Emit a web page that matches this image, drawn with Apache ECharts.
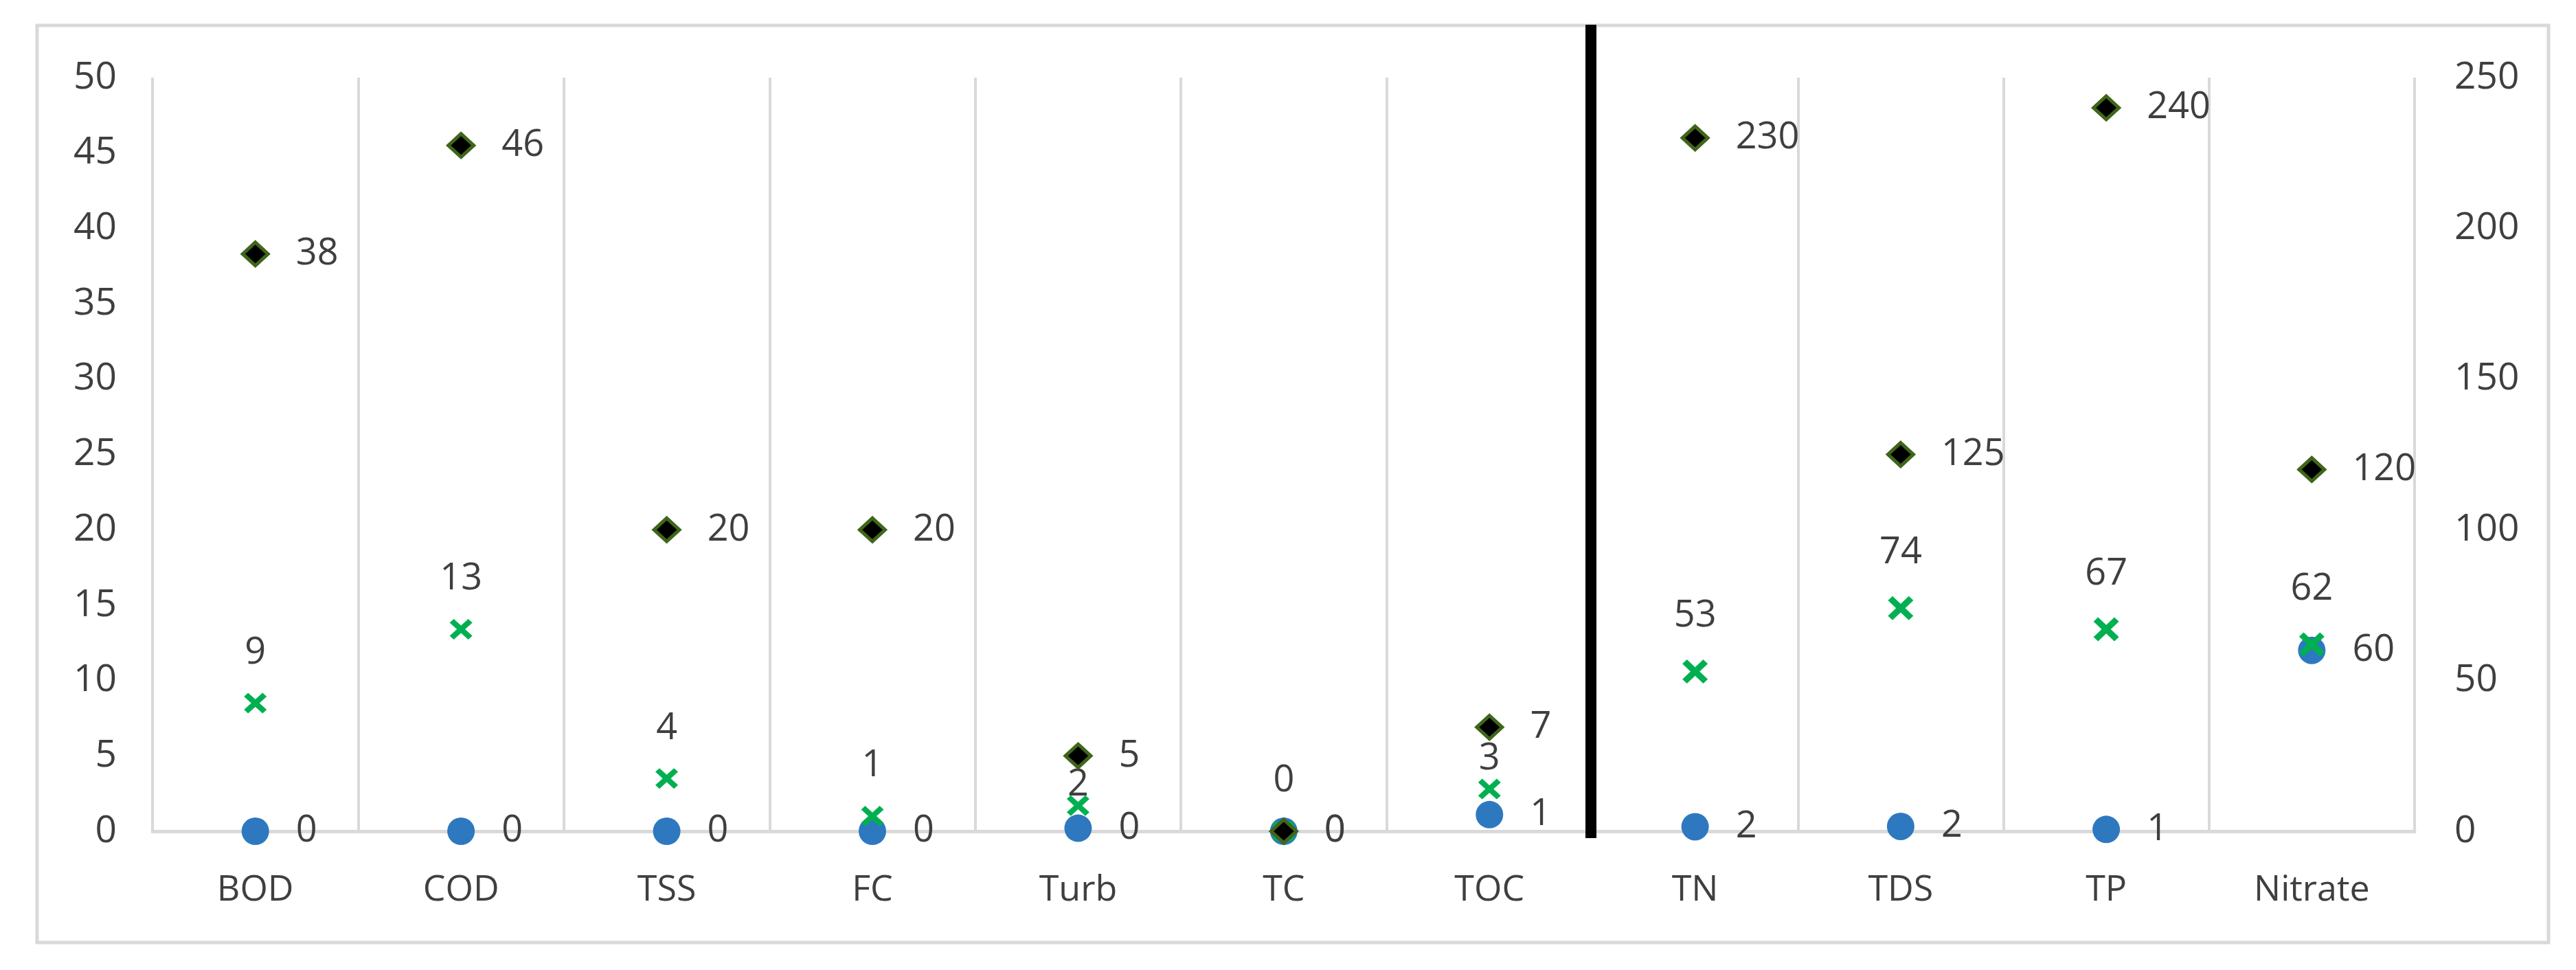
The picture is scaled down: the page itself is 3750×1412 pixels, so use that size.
<!DOCTYPE html>
<html>
<head>
<meta charset="utf-8">
<script src="https://cdn.jsdelivr.net/npm/echarts@6/dist/echarts.min.js"></script>
<style>
  html, body { margin: 0; padding: 0; background: #fff; }
  #chart { width: 3750px; height: 1412px; }
</style>
</head>
<body>
<div id="chart"></div>
<script>
// left panel (scale 0-50)
const leftCats = ['BOD', 'COD', 'TSS', 'FC', 'Turb', 'TC', 'TOC'];
const leftCircle = [0, 0, 0, 0, 0.2, 0, 1.1];
const leftCross = [8.5, 13.4, 3.5, 1, 1.7, 0, 2.8];
const leftDiamond = [38.3, 45.5, 20, 20, 5, 0, 6.9];
const leftMax = 50, leftStep = 5;

// right panel (scale 0-250)
const rightCats = ['TN', 'TDS', 'TP', 'Nitrate'];
const rightCircle = [1.5, 1.6, 0.6, 60];
const rightCross = [53, 74, 67, 62];
const rightDiamond = [230, 125, 240, 120];
const rightMax = 250, rightStep = 50;

const FONT = 'Open Sans';
const TXT = '#3f3f3f';
const GRIDC = '#d9d9d9';
const CROSS = 'path://M0,18 L18,0 L50,32 L82,0 L100,18 L68,50 L100,82 L82,100 L50,68 L18,100 L0,82 L32,50 Z';
// cross labels that were moved closer to their marker in the original
const crossLabelNudge = { Turb: -12, TOC: 2 };

const roundLbl = p => Math.round(p.value);
const lblStyle = { fontFamily: FONT, fontSize: 54, color: TXT };

function circleSeries(data, idx) {
  return {
    type: 'scatter', xAxisIndex: idx, yAxisIndex: idx, data: data,
    symbol: 'circle', symbolSize: 40, z: 2,
    itemStyle: { color: '#2e78bf', opacity: 1 },
    label: Object.assign({ show: true, position: 'right', distance: 39, formatter: roundLbl }, lblStyle)
  };
}
function crossSeries(data, cats, idx, size, dist) {
  return {
    type: 'scatter', xAxisIndex: idx, yAxisIndex: idx,
    data: data.map((v, i) => {
      const item = { value: v };
      if (crossLabelNudge[cats[i]] !== undefined) item.label = { distance: crossLabelNudge[cats[i]] };
      return item;
    }),
    symbol: CROSS, symbolSize: size, z: 3,
    itemStyle: { color: '#00b050', opacity: 1 },
    label: Object.assign({ show: true, position: 'top', distance: dist, formatter: roundLbl }, lblStyle)
  };
}
function diamondSeries(data, idx) {
  return {
    type: 'scatter', xAxisIndex: idx, yAxisIndex: idx, data: data,
    symbol: 'diamond', symbolSize: [37, 34], z: 4,
    itemStyle: { color: '#000000', borderColor: '#3f6619', borderWidth: 5, opacity: 1 },
    label: Object.assign({ show: true, position: 'right', distance: 38, formatter: roundLbl }, lblStyle)
  };
}

function catAxis(cats, idx) {
  return {
    type: 'category', gridIndex: idx, data: cats, boundaryGap: true,
    axisLine: { show: true, lineStyle: { color: GRIDC, width: 5 } },
    axisTick: { show: false },
    splitLine: { show: true, lineStyle: { color: GRIDC, width: 4 } },
    axisLabel: { fontFamily: FONT, fontSize: 52, color: TXT, margin: 60 }
  };
}
function valAxis(max, step, idx, pos, margin) {
  return {
    type: 'value', gridIndex: idx, position: pos, min: 0, max: max, interval: step,
    axisLine: { show: false }, axisTick: { show: false },
    splitLine: { show: false },
    axisLabel: { fontFamily: FONT, fontSize: 55, color: TXT, margin: margin }
  };
}

const chart = echarts.init(document.getElementById('chart'), null, { renderer: 'canvas' });
chart.setOption({
  backgroundColor: '#ffffff',
  animation: false,
  grid: [
    { left: 222, top: 113, width: 2096, height: 1097, outerBoundsMode: 'none', containLabel: false },
    { left: 2318, top: 113, width: 1197, height: 1097, outerBoundsMode: 'none', containLabel: false }
  ],
  xAxis: [catAxis(leftCats, 0), catAxis(rightCats, 1)],
  yAxis: [valAxis(leftMax, leftStep, 0, 'left', 52), valAxis(rightMax, rightStep, 1, 'right', 58)],
  series: [
    circleSeries(leftCircle, 0),
    crossSeries(leftCross, leftCats, 0, [33, 30], 31),
    diamondSeries(leftDiamond, 0),
    circleSeries(rightCircle, 1),
    crossSeries(rightCross, rightCats, 1, [37, 35], 36),
    diamondSeries(rightDiamond, 1)
  ],
  graphic: [
    { type: 'rect', shape: { x: 54, y: 37, width: 3656, height: 1335 },
      style: { fill: 'none', stroke: GRIDC, lineWidth: 5 }, z: 0 },
    { type: 'rect', shape: { x: 2308, y: 36, width: 16, height: 1184 },
      style: { fill: '#000000' }, z: 10 }
  ]
});
</script>
</body>
</html>
